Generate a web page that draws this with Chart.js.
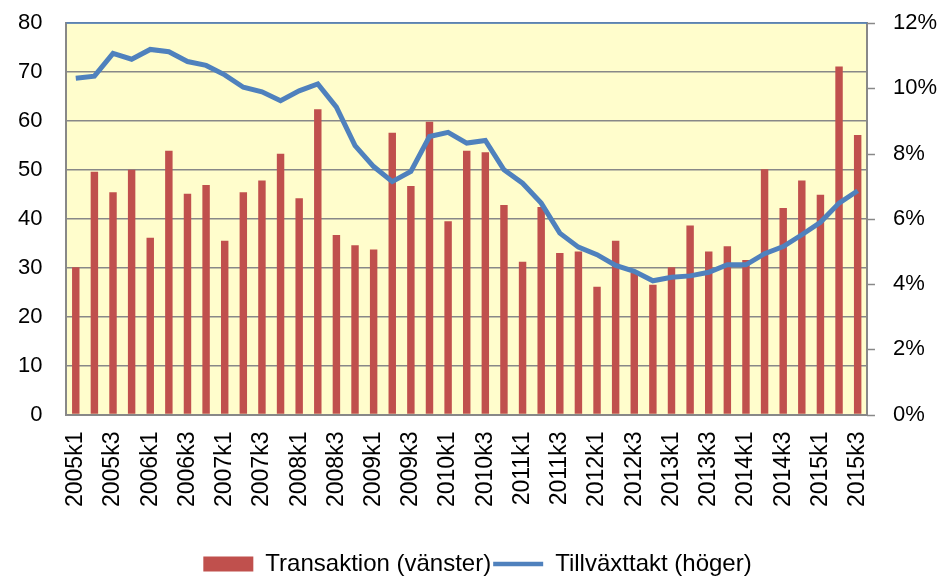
<!DOCTYPE html>
<html>
<head>
<meta charset="utf-8">
<script src="https://cdn.jsdelivr.net/npm/chart.js@4.4.1/dist/chart.umd.min.js"></script>
<style>
  html, body { margin: 0; padding: 0; background: #fff; }
  #wrap { width: 946px; height: 579px; }
</style>
</head>
<body>
<div id="wrap"><canvas id="myChart" width="946" height="579"></canvas></div>
<script>
// quarters 2005k1 .. 2015k3
const years = [2005, 2006, 2007, 2008, 2009, 2010, 2011, 2012, 2013, 2014, 2015];
const quarters = [];
years.forEach(y => {
  for (let q = 1; q <= 4; q++) {
    if (y === 2015 && q === 4) break;
    quarters.push(y + 'k' + q);
  }
});

// Transaktion (vänster)
const transaktion = [
  30.1, 49.6, 45.4, 50.0, 36.1, 53.9, 45.1, 46.9, 35.5, 45.4,
  47.8, 53.3, 44.2, 62.4, 36.7, 34.6, 33.7, 57.6, 46.7, 59.8,
  39.5, 53.9, 53.6, 42.8, 31.2, 42.4, 33.0, 33.3, 26.1, 35.5,
  28.9, 26.5, 30.1, 38.6, 33.3, 34.4, 31.6, 50.1, 42.2, 47.8,
  44.9, 71.1, 57.1
];

// Tillväxttakt (höger), procent
const tillvaxt = [
  10.31, 10.37, 11.07, 10.89, 11.19, 11.12, 10.82, 10.70, 10.41, 10.03,
  9.89, 9.62, 9.92, 10.13, 9.42, 8.24, 7.60, 7.14, 7.45, 8.52,
  8.65, 8.32, 8.40, 7.50, 7.09, 6.48, 5.56, 5.13, 4.90, 4.57,
  4.39, 4.10, 4.21, 4.25, 4.36, 4.59, 4.59, 4.93, 5.15, 5.51,
  5.89, 6.48, 6.86
];

const leftTicks = [0, 10, 20, 30, 40, 50, 60, 70, 80];
const rightTicks = [0, 2, 4, 6, 8, 10, 12];

const barColor = '#C0504D';
const lineColor = '#4F81BD';
const gridColor = '#888888';
const fontFamily = '"Liberation Sans", Arial, sans-serif';

// yellow plot area, blue top edge, short outside ticks on the right axis
const plotBg = {
  id: 'plotBg',
  beforeDraw(chart) {
    const { ctx, chartArea: a } = chart;
    ctx.save();
    ctx.fillStyle = '#FFFDCC';
    ctx.fillRect(a.left, a.top, a.right - a.left, a.bottom - a.top);
    ctx.restore();
  },
  afterDraw(chart) {
    const { ctx, chartArea: a } = chart;
    const s = chart.scales.y1;
    ctx.save();
    ctx.strokeStyle = gridColor;
    ctx.lineWidth = 1.5;
    rightTicks.forEach(v => {
      const y = Math.round(s.getPixelForValue(v)) + 0.5;
      ctx.beginPath();
      ctx.moveTo(a.right, y);
      ctx.lineTo(a.right + 8, y);
      ctx.stroke();
    });
    ctx.strokeStyle = lineColor;
    ctx.beginPath();
    ctx.moveTo(a.left, a.top);
    ctx.lineTo(a.right, a.top);
    ctx.stroke();
    ctx.restore();
  }
};

const ctx = document.getElementById('myChart').getContext('2d');
const myChart = new Chart(ctx, {
  type: 'bar',
  data: {
    labels: quarters,
    datasets: [
      {
        label: 'Transaktion (vänster)',
        data: transaktion,
        backgroundColor: barColor,
        borderWidth: 0,
        barPercentage: 0.4,
        categoryPercentage: 1.0,
        yAxisID: 'y',
        order: 1
      },
      {
        type: 'line',
        label: 'Tillväxttakt (höger)',
        data: tillvaxt,
        borderColor: lineColor,
        backgroundColor: lineColor,
        borderWidth: 5,
        pointRadius: 0,
        tension: 0,
        yAxisID: 'y1',
        order: 0
      }
    ]
  },
  options: {
    responsive: false,
    animation: false,
    devicePixelRatio: 1,
    layout: { padding: { top: 23, left: 18, right: 9, bottom: -7 } },
    plugins: {
      tooltip: { enabled: false },
      legend: {
        position: 'bottom',
        labels: {
          color: '#000',
          font: { family: fontFamily, size: 24 },
          usePointStyle: true,
          pointStyleWidth: 50,
          boxHeight: 15,
          padding: 2,
          generateLabels(chart) {
            return chart.data.datasets.map((ds, i) => ({
              text: ds.label,
              fillStyle: i === 0 ? barColor : lineColor,
              strokeStyle: i === 0 ? barColor : lineColor,
              lineWidth: i === 0 ? 0 : 4.5,
              pointStyle: i === 0 ? 'rect' : 'line',
              fontColor: '#000',
              datasetIndex: i
            }));
          }
        }
      }
    },
    scales: {
      x: {
        offset: true,
        grid: { display: false, drawTicks: true, tickLength: 17 },
        border: { color: gridColor, width: 2 },
        afterFit(axis) { axis.height += 43; },
        ticks: {
          color: '#000',
          font: { family: fontFamily, size: 23 },
          autoSkip: false,
          maxRotation: 90,
          minRotation: 90,
          padding: 0,
          callback(value, index) {
            return index % 2 === 0 ? this.getLabelForValue(value) : '';
          }
        }
      },
      y: {
        position: 'left',
        min: leftTicks[0],
        max: leftTicks[leftTicks.length - 1],
        afterBuildTicks(axis) { axis.ticks = leftTicks.map(v => ({ value: v })); },
        grid: { color: gridColor, lineWidth: 1.5, drawTicks: true, tickLength: 24, tickColor: 'transparent' },
        border: { color: gridColor, width: 2 },
        ticks: {
          color: '#000',
          font: { family: fontFamily, size: 22 },
          padding: 0
        }
      },
      y1: {
        position: 'right',
        min: rightTicks[0],
        max: rightTicks[rightTicks.length - 1],
        afterBuildTicks(axis) { axis.ticks = rightTicks.map(v => ({ value: v })); },
        grid: { drawOnChartArea: false, tickLength: 26, tickColor: 'transparent' },
        border: { color: gridColor, width: 2 },
        ticks: {
          color: '#000',
          font: { family: fontFamily, size: 22 },
          padding: 0,
          callback: v => v + '%'
        }
      }
    }
  },
  plugins: [plotBg]
});
</script>
</body>
</html>
